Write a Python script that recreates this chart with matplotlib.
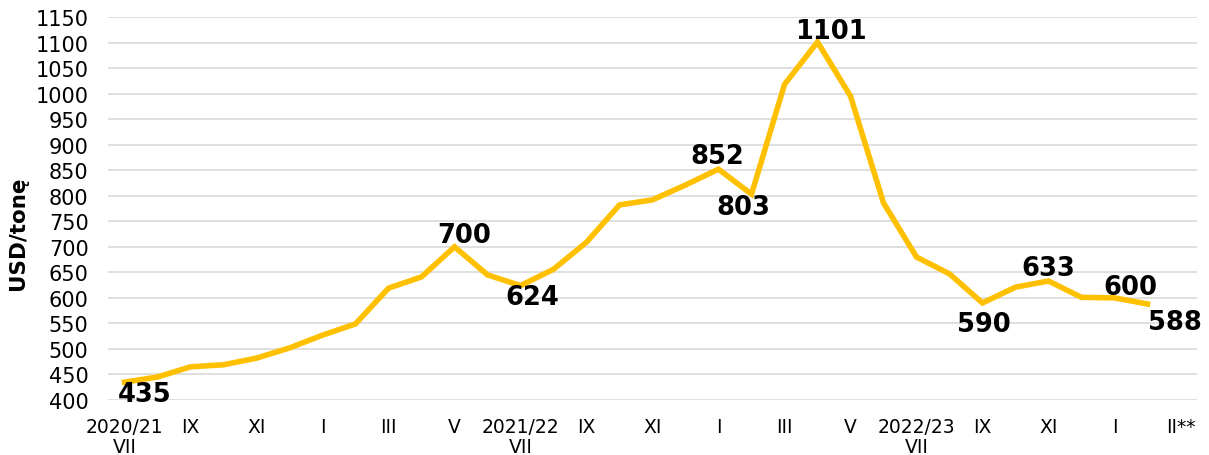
import matplotlib
matplotlib.use("Agg")
import matplotlib.pyplot as plt

months = ["VII", "VIII", "IX", "X", "XI", "XII", "I", "II", "III", "IV", "V", "VI",
          "VII", "VIII", "IX", "X", "XI", "XII", "I", "II", "III", "IV", "V", "VI",
          "VII", "VIII", "IX", "X", "XI", "XII", "I", "II"]
prices = [435, 445, 465, 469, 482, 502, 527, 549, 619, 641, 700, 645,
          624, 656, 709, 782, 792, 821, 852, 803, 1018, 1101, 995, 786,
          680, 647, 590, 621, 633, 601, 600, 588]
tick_labels = ["2020/21\nVII", "IX", "XI", "I", "III", "V",
               "2021/22\nVII", "IX", "XI", "I", "III", "V",
               "2022/23\nVII", "IX", "XI", "I", "II**"]
# labelled points: index -> pixel offset (dx, dy)
label_idx = [0, 10, 12, 18, 19, 21, 26, 28, 30, 31]
label_off = [(20, -12), (10, 12), (12, -11), (-1, 13), (-8, -13), (13, 11),
             (1, -21), (0, 13), (16, 11), (27, -18)]

fig = plt.figure(figsize=(12.09, 4.56), dpi=100)
ax = fig.add_axes([108/1209, 1-401/456, (1197-108)/1209, (401-18)/456])

x = list(range(len(prices)))
ax.plot(x, prices, color="#FFC000", lw=4.0, solid_joinstyle="miter", zorder=3)

for i, (dx, dy) in zip(label_idx, label_off):
    ax.annotate(str(prices[i]), (i, prices[i]), xytext=(dx, dy),
                textcoords="offset pixels", ha="center", va="center",
                fontsize=18.5, fontweight="bold", color="black", zorder=4)

ax.set_xlim(-0.5, 32.5)
ax.set_ylim(400, 1150)
ax.set_yticks(range(400, 1151, 50))
ax.set_xticks(range(0, 33, 2))
ax.set_xticklabels(tick_labels, fontsize=13.5, linespacing=1.1)
ax.tick_params(axis="y", labelsize=15, length=0, pad=14)
ax.tick_params(axis="x", length=0, pad=12)
ax.grid(axis="y", color="#d9d9d9", lw=1.2, zorder=0)
ax.set_axisbelow(True)
for s in ax.spines.values():
    s.set_visible(False)
fig.text(18/1209, 1-233/456, "USD/tonę", rotation=90, ha="center", va="center",
         fontsize=15.5, fontweight="bold")

fig.savefig("out.png", dpi=100)
